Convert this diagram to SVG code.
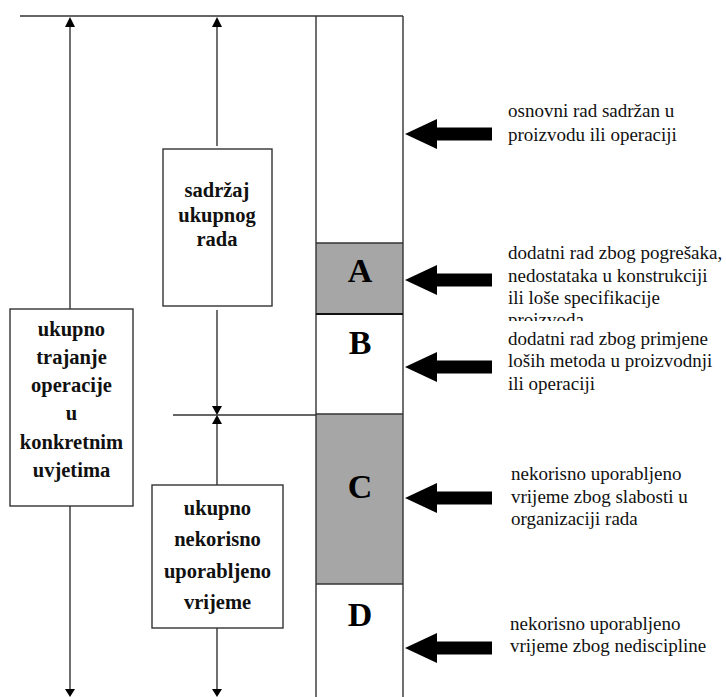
<svg xmlns="http://www.w3.org/2000/svg" width="726" height="697" viewBox="0 0 726 697">
<style>
.ln{stroke:#333;stroke-width:1.4;fill:none}
.box{fill:#fff;stroke:#333;stroke-width:1.4}
.bt{font-family:'Liberation Serif','Times New Roman',Times,'DejaVu Serif',serif;font-weight:bold;font-size:20.5px;fill:#111;text-anchor:middle}
.lt{font-family:'Liberation Serif','Times New Roman',Times,'DejaVu Serif',serif;font-weight:bold;font-size:34px;fill:#000;text-anchor:middle}
.rt{font-family:'Liberation Serif','Times New Roman',Times,'DejaVu Serif',serif;font-size:19px;fill:#111}
.ah{fill:#000}
</style>
<defs>
<path id="blk" d="M0,0 L32,-15 L32,-6.5 L87,-6.5 L87,6.5 L32,6.5 L32,15 Z"/>
<clipPath id="clipA"><rect x="500" y="230" width="226" height="91"/></clipPath>
</defs>
<rect width="726" height="697" fill="#fff"/>

<g id="column">
<rect x="316" y="243" width="87" height="71" fill="#a6a6a6"/>
<rect x="316" y="414" width="87" height="170" fill="#a6a6a6"/>
<line class="ln" x1="316" y1="16" x2="316" y2="697"/>
<line class="ln" x1="403" y1="16" x2="403" y2="697"/>
<line class="ln" x1="316" y1="243" x2="403" y2="243"/>
<line x1="316" y1="314" x2="403" y2="314" stroke="#111" stroke-width="2.2"/>
<line class="ln" x1="316" y1="414" x2="403" y2="414"/>
<line class="ln" x1="316" y1="584" x2="403" y2="584"/>
<text class="lt" x="360" y="282">A</text>
<text class="lt" x="360" y="354">B</text>
<text class="lt" x="360" y="498">C</text>
<text class="lt" x="360" y="626">D</text>
</g>

<g id="connectors">
<line class="ln" x1="20" y1="16" x2="403" y2="16"/>
<line class="ln" x1="173" y1="415" x2="316" y2="415"/>
<line class="ln" x1="70" y1="20" x2="70" y2="309"/>
<line class="ln" x1="70" y1="506" x2="70" y2="692"/>
<line class="ln" x1="217" y1="20" x2="217" y2="146"/>
<line class="ln" x1="217" y1="310" x2="217" y2="410"/>
<line class="ln" x1="217" y1="420" x2="217" y2="485"/>
<line class="ln" x1="217" y1="628" x2="217" y2="692"/>
<path class="ah" d="M70,17 L75,27 L65,27 Z"/>
<path class="ah" d="M217,17 L222,27 L212,27 Z"/>
<path class="ah" d="M217,415 L212,406 L222,406 Z"/>
<path class="ah" d="M217,415 L222,424 L212,424 Z"/>
<path class="ah" d="M70,697 L65,689 L75,689 Z"/>
<path class="ah" d="M217,697 L212,689 L222,689 Z"/>
<use href="#blk" x="405" y="134"/>
<use href="#blk" x="405" y="280"/>
<use href="#blk" x="405" y="367"/>
<use href="#blk" x="405" y="498"/>
<use href="#blk" x="405" y="648"/>
</g>

<g id="node-sadrzaj">
<rect class="box" x="163" y="149" width="109" height="157"/>
<text class="bt" x="217" y="197">sadržaj</text>
<text class="bt" x="217" y="222">ukupnog</text>
<text class="bt" x="217" y="246">rada</text>
</g>

<g id="node-ukupno-trajanje">
<rect class="box" x="10" y="309" width="123" height="197"/>
<text class="bt" x="71.5" y="336">ukupno</text>
<text class="bt" x="71.5" y="364">trajanje</text>
<text class="bt" x="71.5" y="392">operacije</text>
<text class="bt" x="71.5" y="420">u</text>
<text class="bt" x="71.5" y="449">konkretnim</text>
<text class="bt" x="71.5" y="477">uvjetima</text>
</g>

<g id="node-nekorisno">
<rect class="box" x="152" y="485" width="131" height="143"/>
<text class="bt" x="217.5" y="515">ukupno</text>
<text class="bt" x="217.5" y="546">nekorisno</text>
<text class="bt" x="217.5" y="578">uporabljeno</text>
<text class="bt" x="217.5" y="609">vrijeme</text>
</g>

<g id="label-osnovni">
<text class="rt" x="508" y="117">osnovni rad sadržan u</text>
<text class="rt" x="508" y="141">proizvodu ili operaciji</text>
</g>
<g id="label-A" clip-path="url(#clipA)">
<text class="rt" x="508" y="259">dodatni rad zbog pogrešaka,</text>
<text class="rt" x="508" y="282">nedostataka u konstrukciji</text>
<text class="rt" x="508" y="304">ili loše specifikacije</text>
<text class="rt" x="508" y="326">proizvoda</text>
</g>
<g id="label-B">
<text class="rt" x="508" y="345">dodatni rad zbog primjene</text>
<text class="rt" x="508" y="367">loših metoda u proizvodnji</text>
<text class="rt" x="508" y="390">ili operaciji</text>
</g>
<g id="label-C">
<text class="rt" x="511" y="480">nekorisno uporabljeno</text>
<text class="rt" x="511" y="503">vrijeme zbog slabosti u</text>
<text class="rt" x="511" y="525">organizaciji rada</text>
</g>
<g id="label-D">
<text class="rt" x="510" y="630">nekorisno uporabljeno</text>
<text class="rt" x="510" y="652">vrijeme zbog nediscipline</text>
</g>
</svg>
